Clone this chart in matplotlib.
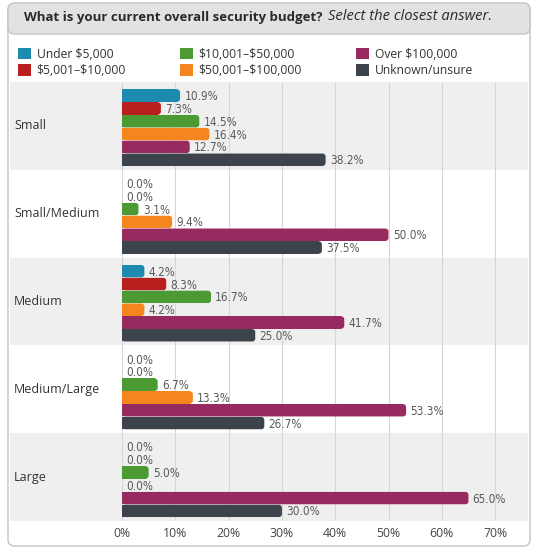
import numpy as np
import matplotlib.pyplot as plt
from matplotlib.patches import FancyBboxPatch, Patch

# ─── DATA ───────────────────────────────────────────────
CATEGORIES = ["Small", "Small/Medium", "Medium", "Medium/Large", "Large"]
SERIES = ["Under \\$5,000", "\\$5,001–\\$10,000", "\\$10,001–\\$50,000",
          "\\$50,001–\\$100,000", "Over \\$100,000", "Unknown/unsure"]

under_5k = [10.9, 0.0, 4.2, 0.0, 0.0]
from_5k_10k = [7.3, 0.0, 8.3, 0.0, 0.0]
from_10k_50k = [14.5, 3.1, 16.7, 6.7, 5.0]
from_50k_100k = [16.4, 9.4, 4.2, 13.3, 0.0]
over_100k = [12.7, 50.0, 41.7, 53.3, 65.0]
unknown = [38.2, 37.5, 25.0, 26.7, 30.0]

VALUES = [under_5k, from_5k_10k, from_10k_50k, from_50k_100k, over_100k, unknown]
COLORS = ["#1d8ab0", "#b8201f", "#4b9a34", "#f5861f", "#972a5e", "#3d434a"]
XTICKS = [0, 10, 20, 30, 40, 50, 60, 70]

W, H = 538, 549
plt.rcParams["font.family"] = ["Open Sans", "DejaVu Sans"]

fig = plt.figure(figsize=(W / 100, H / 100), dpi=100)

# outer frame and title band (behind the axes)
frame = FancyBboxPatch((8 / W, 3 / H), 522 / W, 542 / H, boxstyle="round,pad=0,rounding_size=0.012",
                       transform=fig.transFigure, facecolor="white", edgecolor="#c4c4c4", lw=1.0, zorder=-2)
fig.patches.append(frame)
band = FancyBboxPatch((8 / W, 1 - 34 / H), 522 / W, 31 / H, boxstyle="round,pad=0,rounding_size=0.012",
                      transform=fig.transFigure, facecolor="#e2e2e2", edgecolor="#c4c4c4", lw=1.0, zorder=-1)
fig.patches.append(band)
fig.text(326 / W, 1 - 17 / H, "What is your current overall security budget? ", ha="right", va="center",
         fontsize=9.5, fontweight="bold", color="#2a2a2a")
fig.text(328 / W, 1 - 17 / H, "Select the closest answer.", ha="left", va="center",
         fontsize=10.6, fontstyle="italic", color="#2a2a2a")

# ─── MAIN AXES ───────────────────────────────────────────
ax = fig.add_axes([10 / W, 1 - 521 / H, 518 / W, 439 / H])
px = 5.33  # pixels per percent on x
py = 439 / len(CATEGORIES)  # pixels per category on y
ax.set_xlim(-112 / px, 406 / px)
ax.set_ylim(len(CATEGORIES) - 0.5, -0.5)

for i in range(len(CATEGORIES)):
    if i % 2 == 0:
        ax.axhspan(i - 0.5, i + 0.5, color="#efefef", zorder=0, lw=0)
for t in XTICKS:
    ax.axvline(t, color="#d6d6d6", lw=0.8, zorder=1)

bar_h = 0.146
r = 3.0 / px  # corner radius in x units
y = np.arange(len(CATEGORIES))
for k, (vals, col) in enumerate(zip(VALUES, COLORS)):
    pos = y + (k - 2.5) * bar_h + 0.02
    hh = bar_h * 0.96
    # square left part, rounded right end
    ax.barh(pos, [max(v - r, 0) for v in vals], height=hh, color=col, zorder=2, lw=0)
    for p, v in zip(pos, vals):
        if v > 0:
            ax.add_patch(FancyBboxPatch((0, p - hh / 2), v, hh,
                                        boxstyle=f"round,pad=0,rounding_size={r}",
                                        mutation_aspect=px / py, facecolor=col, lw=0, zorder=2))
        ax.text(v + 0.8, p + 0.012, f"{v:.1f}%", va="center", ha="left", fontsize=8.5,
                color="#5a5a5a", family="DejaVu Sans", fontstretch="condensed", zorder=3)

for i, cat in enumerate(CATEGORIES):
    ax.text(-112 / px + 4 / px, i, cat, va="center", ha="left", fontsize=9, color="#333333")

ax.set_xticks(XTICKS)
ax.set_xticklabels([f"{t}%" for t in XTICKS], fontsize=8.8, color="#444444")
ax.tick_params(axis="x", length=0, pad=4)
ax.set_yticks([])
for s in ax.spines.values():
    s.set_visible(False)
ax.patch.set_alpha(0)

handles = [Patch(facecolor=c, edgecolor="none") for c in COLORS]
fig.legend(handles, SERIES, ncol=3, loc="lower left", mode="expand", frameon=False,
           bbox_to_anchor=(13 / W, 1 - 82 / H, 465 / W, 46 / H), fontsize=8.7,
           handlelength=1.05, handleheight=1.05, handletextpad=0.5, labelspacing=0.3,
           labelcolor="#333333", borderaxespad=0)

fig.savefig("out.png", dpi=100)
